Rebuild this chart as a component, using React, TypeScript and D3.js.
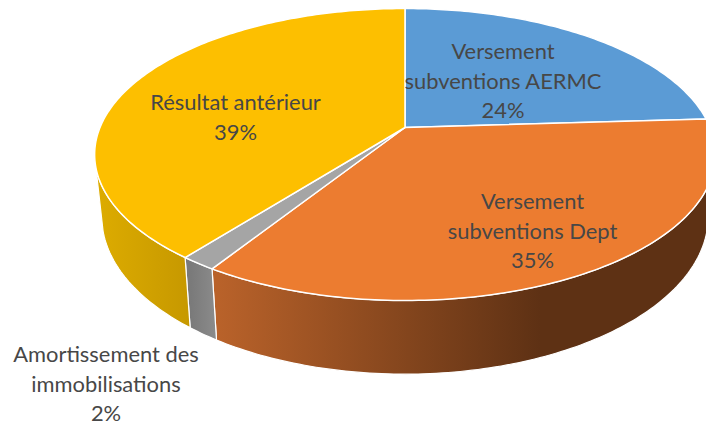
import React from 'react';
import * as d3 from 'd3';

const categories = ['Versement subventions AERMC', 'Versement subventions Dept', 'Amortissement des immobilisations', 'Résultat antérieur'];
const values = [24, 34.9, 1.6, 39.4];
const topColors = ['#5b9bd5', '#ec7c30', '#a5a5a5', '#fdbf00'];
const wallStops = [
  ['#3d6a94', '#3d6a94'],
  ['#b9622a', '#5e3114'],
  ['#7a7a7a', '#8c8c8c'],
  ['#dcab00', '#c69800'],
];
const labelLines = [
  ['Versement', 'subventions AERMC'],
  ['Versement', 'subventions Dept'],
  ['Amortissement des', 'immobilisations'],
  ['Résultat antérieur'],
];

const width = 706;
const height = 425;

// pie plane seen in perspective
const cx = 405;
const cy = 127.5;
const radius = 305;
const tilt = 141;
const persp = 0.185;
const depth = 60;
const bottomScale = 0.977;
const wallFrontLimit = 0.27; // walls only start where the rim turns towards the viewer

const project = (a: number) => {
  const u = Math.sin(a);
  const v = -Math.cos(a);
  const w = 1 / (1 - persp * v);
  return { x: cx + radius * u * w, y: cy + tilt * v * w, w };
};
const topPoint = (a: number): [number, number] => {
  const p = project(a);
  return [p.x, p.y];
};
const bottomPoint = (a: number): [number, number] => {
  const p = project(a);
  return [cx + (p.x - cx) * bottomScale, p.y + depth * p.w];
};

const arcs = d3.pie<number>().sort(null)(values);
const line = d3.line();

const sample = (a0: number, a1: number) => {
  const n = Math.max(2, Math.ceil((a1 - a0) * 60));
  return d3.range(n + 1).map(i => a0 + ((a1 - a0) * i) / n);
};

// label boxes: centre x and first baseline
const labelPos = [
  { x: 503, y: 59, gap: 29.5 },
  { x: 532.5, y: 209, gap: 29.5 },
  { x: 106, y: 362, gap: 29.5 },
  { x: 235.5, y: 110, gap: 30 },
];
// horizontal extent of the wall gradients
const wallGrad = [
  [600, 706],
  [218, 540],
  [191, 217],
  [100, 191],
];

export default function App() {
  return (
    <svg width={width} height={height} style={{ position: 'absolute', left: 0, top: 0, background: '#fff' }}>
      <defs>
        {wallStops.map((s, i) => (
          <linearGradient key={i} id={`wall${i}`} gradientUnits="userSpaceOnUse" x1={wallGrad[i][0]} x2={wallGrad[i][1]} y1={0} y2={0}>
            <stop offset="0" stopColor={s[0]} />
            <stop offset="1" stopColor={s[1]} />
          </linearGradient>
        ))}
      </defs>
      {arcs.map((d, i) => {
        const angles = sample(d.startAngle, d.endAngle).filter(a => -Math.cos(a) >= wallFrontLimit);
        if (angles.length < 2) return null;
        const pts = [...angles.map(topPoint), ...angles.slice().reverse().map(bottomPoint)];
        return <path key={i} d={line(pts) + 'Z'} fill={`url(#wall${i})`} stroke="#fff" strokeWidth={1.2} strokeLinejoin="round" />;
      })}
      {arcs.map((d, i) => {
        const pts: [number, number][] = [[cx, cy], ...sample(d.startAngle, d.endAngle).map(topPoint)];
        return <path key={i} d={line(pts) + 'Z'} fill={topColors[i]} stroke="#fff" strokeWidth={1.5} strokeLinejoin="round" />;
      })}
      <g fontFamily="Lato, 'Open Sans', sans-serif" fontSize={21.9} fill="#474747" textAnchor="middle">
        {categories.map((c, i) => {
          const p = labelPos[i];
          const lines = [...labelLines[i], `${d3.format('.0f')(values[i])}%`];
          return (
            <text key={c}>
              {lines.map((t, j) => (
                <tspan key={j} x={p.x} y={p.y + j * p.gap}>{t}</tspan>
              ))}
            </text>
          );
        })}
      </g>
    </svg>
  );
}
